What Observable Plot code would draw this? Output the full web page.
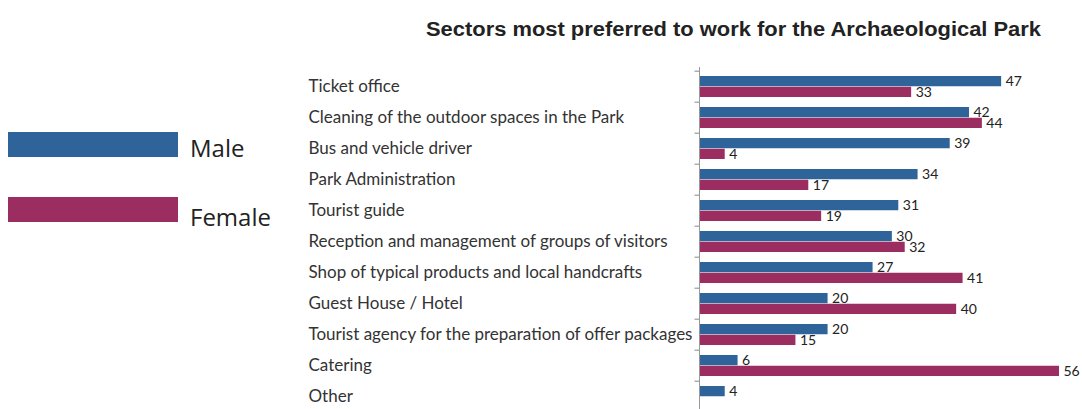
<!DOCTYPE html>
<html>
<head>
<meta charset="utf-8">
<script src="https://cdn.jsdelivr.net/npm/d3@7"></script>
<script src="https://cdn.jsdelivr.net/npm/@observablehq/plot@0.6"></script>
<style>
  body { margin: 0; background: #fff; }
  #wrap { position: relative; width: 1082px; height: 409px; overflow: hidden; font-family: Lato, "Open Sans", sans-serif; }
  #title { position: absolute; left: 426px; top: 18px; font-family: "Liberation Sans", Arial, sans-serif; font-weight: bold; font-size: 20px; color: #222; white-space: nowrap; transform-origin: 0 0; transform: scaleX(1.095); }
  .lg { position: absolute; left: 8px; width: 170px; height: 25px; }
  .lt { position: absolute; left: 190px; font-size: 24px; color: #222; font-family: "Open Sans", sans-serif; }
  #chart { position: absolute; left: 0; top: 0; }
</style>
</head>
<body>
<div id="wrap">
  <div id="chart"></div>
  <div id="title"></div>
  <div id="legend"></div>
</div>
<script>
const title = "Sectors most preferred to work for the Archaeological Park";
const categories = [
  "Ticket office",
  "Cleaning of the outdoor spaces in the Park",
  "Bus and vehicle driver",
  "Park Administration",
  "Tourist guide",
  "Reception and management of groups of visitors",
  "Shop of typical products and local handcrafts",
  "Guest House / Hotel",
  "Tourist agency for the preparation of offer packages",
  "Catering",
  "Other"
];
const male   = [47, 42, 39, 34, 31, 30, 27, 20, 20, 6, 4];
const female = [33, 44, 4, 17, 19, 32, 41, 40, 15, 56, null];
const seriesNames = ["Male", "Female"];
const colors = ["#2f649b", "#9b2d60"];

const maleData = categories.map((c, i) => ({category: c, value: male[i]})).filter(d => d.value != null);
const femaleData = categories.map((c, i) => ({category: c, value: female[i]})).filter(d => d.value != null);

document.getElementById("title").textContent = title;

const legend = document.getElementById("legend");
const lgTop = [132, 197];
seriesNames.forEach((n, i) => {
  const r = document.createElement("div");
  r.className = "lg"; r.style.top = lgTop[i] + "px"; r.style.background = colors[i];
  legend.appendChild(r);
  const t = document.createElement("div");
  t.className = "lt"; t.style.top = (lgTop[i] - 1 + i * 4) + "px"; t.textContent = n;
  legend.appendChild(t);
});

const chart = Plot.plot({
  width: 1082,
  height: 409,
  marginLeft: 699,
  marginRight: 23,
  marginTop: 67,
  marginBottom: 0,
  style: {fontFamily: "Lato, 'Open Sans', sans-serif", background: "transparent"},
  x: {domain: [0, 56], axis: null},
  y: {domain: categories, range: [68, 416], paddingInner: 0.32, paddingOuter: 0.16, label: null},
  marks: [
    Plot.barX(maleData, {y: "category", x: "value", fill: colors[0], insetBottom: 10.75, insetTop: 0}),
    Plot.barX(femaleData, {y: "category", x: "value", fill: colors[1], insetTop: 10.75, insetBottom: 0}),
    Plot.text(maleData, {y: "category", x: "value", text: d => String(d.value), textAnchor: "start", dx: 4, dy: -5, fontSize: 14, fill: "#222"}),
    Plot.text(femaleData, {y: "category", x: "value", text: d => String(d.value), textAnchor: "start", dx: 4, dy: 6, fontSize: 14, fill: "#222"}),
    Plot.ruleX([0], {stroke: "#999"}),
    Plot.ruleY(categories, {y: d => d, x1: -0.7, x2: 0, dy: -15.82, stroke: "#888"}),
    Plot.axisY({tickSize: 0, tickPadding: 0, textAnchor: "start", dx: -391, fontSize: 17, fill: "#333", label: null})
  ]
});
document.getElementById("chart").appendChild(chart);
</script>
</body>
</html>
